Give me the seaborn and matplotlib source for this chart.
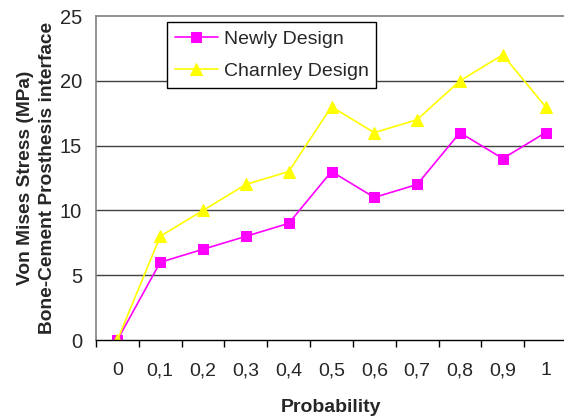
import matplotlib
matplotlib.use("Agg")
import matplotlib.pyplot as plt
import seaborn as sns
import numpy as np
from matplotlib.ticker import FixedLocator

categories = ["0", "0,1", "0,2", "0,3", "0,4", "0,5", "0,6", "0,7", "0,8", "0,9", "1"]
newly = [0, 6, 7, 8, 9, 13, 11, 12, 16, 14, 16]
charnley = [0, 8, 10, 12, 13, 18, 16, 17, 20, 22, 18]
y_ticks = [0, 5, 10, 15, 20, 25]

sns.set_theme(style="white")
plt.rcParams['font.family'] = ['Liberation Sans', 'DejaVu Sans']

fig = plt.figure(figsize=(5.64, 4.19), dpi=100)
ax = fig.add_axes([96/564, 79/419, 471/564, 324/419])

sns.lineplot(x=categories, y=newly, ax=ax, color="#FF00FF", marker="s", markersize=7,
             markeredgecolor="#FF00FF", linewidth=1.2, label="Newly Design", sort=False)
sns.lineplot(x=categories, y=charnley, ax=ax, color="#FFFF00", marker="^", markersize=8.5,
             markeredgecolor="#FFFF00", linewidth=1.2, label="Charnley Design", sort=False)

ax.set_xlim(-0.5, 10.5)
ax.set_ylim(0, 25)
ax.set_yticks(y_ticks)
ax.set_yticklabels([str(v) for v in y_ticks], fontsize=14.5)
ax.set_xticks(range(len(categories)))
ax.set_xticklabels(categories, fontsize=14)
ax.tick_params(axis='x', which='major', length=0, pad=16)
ax.xaxis.set_minor_locator(FixedLocator(np.arange(-0.5, 10.5, 1)))
ax.tick_params(axis='x', which='minor', length=5, width=1, color="black", direction="out", bottom=True)
ax.tick_params(axis='y', which='major', length=0, pad=10)

for v in [5, 10, 15, 20]:
    ax.axhline(v, color="#404040", linewidth=1, zorder=0)

ax.spines['top'].set_color("#808080")
ax.spines['top'].set_linewidth(1.2)
ax.spines['left'].set_color("#808080")
ax.spines['left'].set_linewidth(1.2)
ax.spines['bottom'].set_color("black")
ax.spines['bottom'].set_linewidth(1)
ax.spines['right'].set_visible(False)

ax.set_xlabel("Probability", fontsize=14, fontweight="bold", labelpad=14)
ax.set_ylabel("Von Mises Stress (MPa)\nBone-Cement Prosthesis interface", fontsize=13.8,
              fontweight="bold", labelpad=3, linespacing=1.35)

leg = ax.legend(loc="upper left", bbox_to_anchor=(0.151, 0.981), borderaxespad=0,
                fontsize=14, frameon=True, fancybox=False, handlelength=2.2,
                borderpad=0.4, labelspacing=0.75, handletextpad=0.3)
leg.get_frame().set_edgecolor("black")
leg.get_frame().set_linewidth(1)
leg.get_frame().set_facecolor("white")
leg.get_frame().set_alpha(1)

fig.savefig("out.png", dpi=100)
